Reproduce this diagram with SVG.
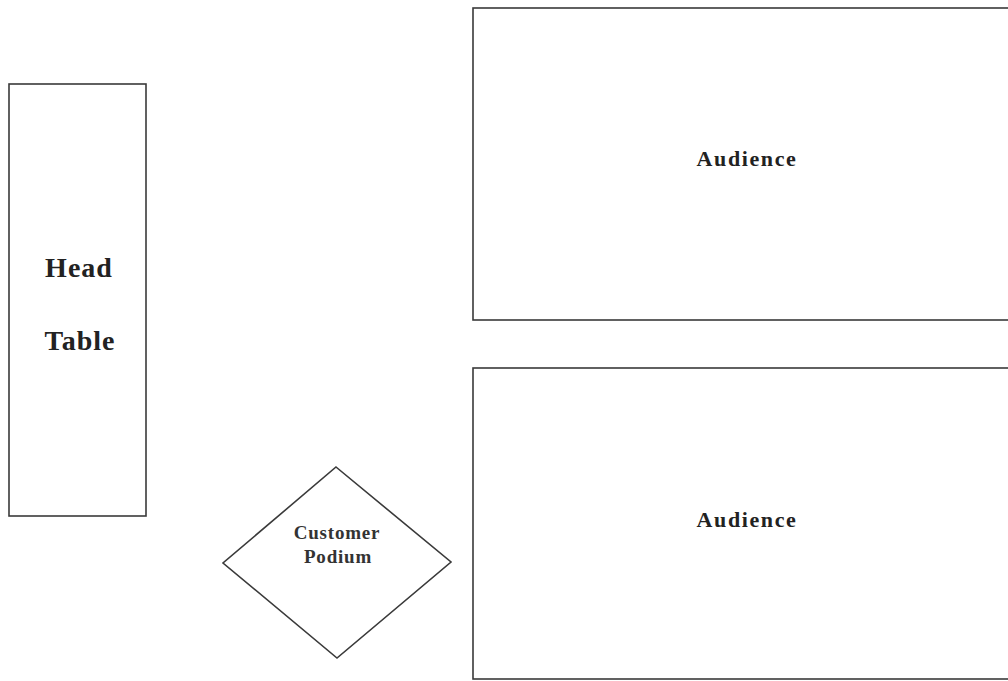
<svg xmlns="http://www.w3.org/2000/svg" width="1008" height="681" viewBox="0 0 1008 681">
<style>
.shape{fill:#ffffff;stroke:#3a3a3a;stroke-width:1.6}
.lbl{font-family:"Liberation Serif","Times New Roman",serif;fill:#222222;text-anchor:middle}
.big{font-size:28px;font-weight:bold;letter-spacing:1px}
.aud{font-size:22px;font-weight:bold;letter-spacing:1.6px}
.pod{font-size:19px;font-weight:bold;letter-spacing:0.8px;fill:#333333}
</style>
<rect width="1008" height="681" fill="#ffffff"/>
<g id="head-table">
<rect class="shape" x="9" y="84" width="137" height="432"/>
<text class="lbl big" x="79" y="277">Head</text>
<text class="lbl big" x="80" y="350">Table</text>
</g>
<g id="audience-top">
<rect class="shape" x="473" y="8" width="545" height="312"/>
<text class="lbl aud" x="747" y="166">Audience</text>
</g>
<g id="audience-bottom">
<rect class="shape" x="473" y="368" width="545" height="311"/>
<text class="lbl aud" x="747" y="527">Audience</text>
</g>
<g id="customer-podium">
<polygon class="shape" points="336,467 451,562 337,658 223,563"/>
<text class="lbl pod" x="337" y="539">Customer</text>
<text class="lbl pod" x="338" y="563">Podium</text>
</g>
<g id="connectors"></g>
</svg>
